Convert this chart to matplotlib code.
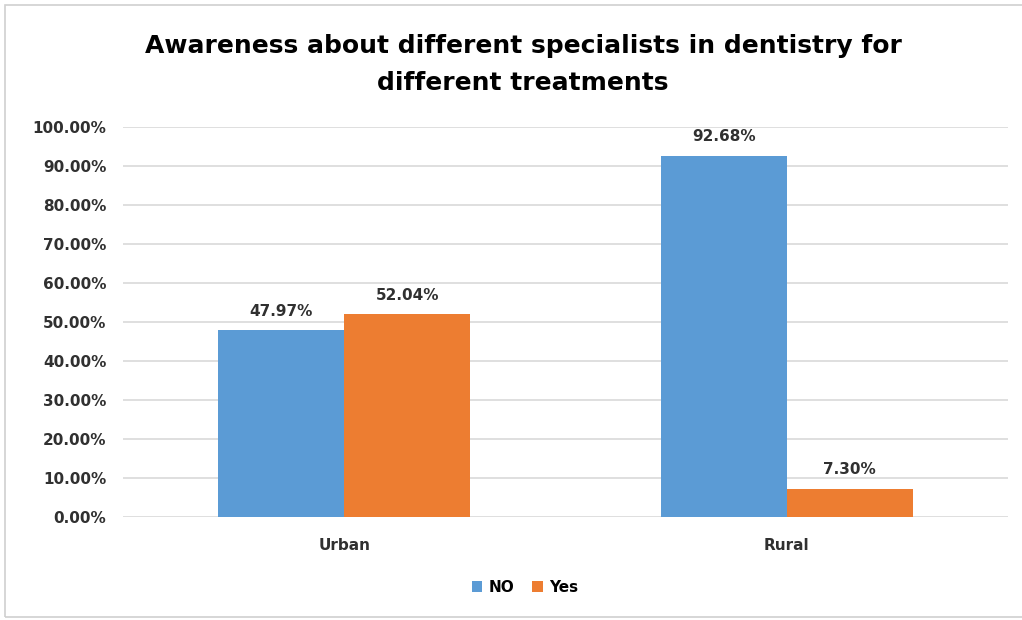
import numpy as np
import matplotlib.pyplot as plt
from matplotlib.patches import Rectangle
from matplotlib.ticker import FuncFormatter

# ── data ─────────────────────────────────────────────────────────────────────
categories = ["Urban", "Rural"]
no_vals = [47.97, 92.68]
yes_vals = [52.04, 7.30]
series_names = ["NO", "Yes"]

TITLE = "Awareness about different specialists in dentistry for\ndifferent treatments"
COLORS = ["#5B9BD5", "#ED7D31"]
TEXT = "#303030"

plt.rcParams["font.family"] = ["DejaVu Sans"]
plt.rcParams["font.weight"] = "bold"

fig = plt.figure(figsize=(10.22, 6.2), dpi=100)
ax = fig.add_axes([123 / 1022, 1 - 517 / 620, 885 / 1022, 390 / 620])

# light chart border
fig.patches.append(Rectangle((5 / 1022, 3 / 620), 1.1, 612 / 620, transform=fig.transFigure,
                             fill=False, edgecolor="#D0D0D0", linewidth=1.2))

x = np.arange(len(categories))
w = 0.285
for vals, off, color, name in zip([no_vals, yes_vals], [-w / 2, w / 2], COLORS, series_names):
    bars = ax.bar(x + off, vals, width=w, color=color, label=name, zorder=3)
    for b, v in zip(bars, vals):
        ax.annotate(f"{v:.2f}%", (b.get_x() + b.get_width() / 2, v), xytext=(0, 8),
                    textcoords="offset points", ha="center", va="bottom",
                    fontsize=11, fontweight="bold", color=TEXT)

ax.set_xlim(-0.5, 1.5)
ax.set_ylim(0, 100)
ax.set_yticks(np.arange(0, 101, 10))
ax.yaxis.set_major_formatter(FuncFormatter(lambda v, _: f"{v:.2f}%"))
ax.set_xticks(x)
ax.set_xticklabels(categories)
ax.tick_params(axis="both", length=0, labelsize=11, colors=TEXT, pad=12)
ax.tick_params(axis="x", pad=15)
for lbl in ax.get_xticklabels() + ax.get_yticklabels():
    lbl.set_fontweight("bold")
ax.grid(axis="y", color="#D9D9D9", linewidth=1.2, zorder=0)
for s in ax.spines.values():
    s.set_visible(False)

fig.text(523 / 1022, 1 - 64.5 / 620, TITLE, ha="center", va="center", fontsize=18,
         fontweight="bold", color="black", linespacing=1.7)

fig.legend(loc="center", bbox_to_anchor=(525 / 1022, 1 - 587 / 620), ncol=2, frameon=False,
           fontsize=11, handlelength=0.7, handleheight=0.7, columnspacing=1.2, handletextpad=0.4)

fig.savefig("out.png", dpi=100)
